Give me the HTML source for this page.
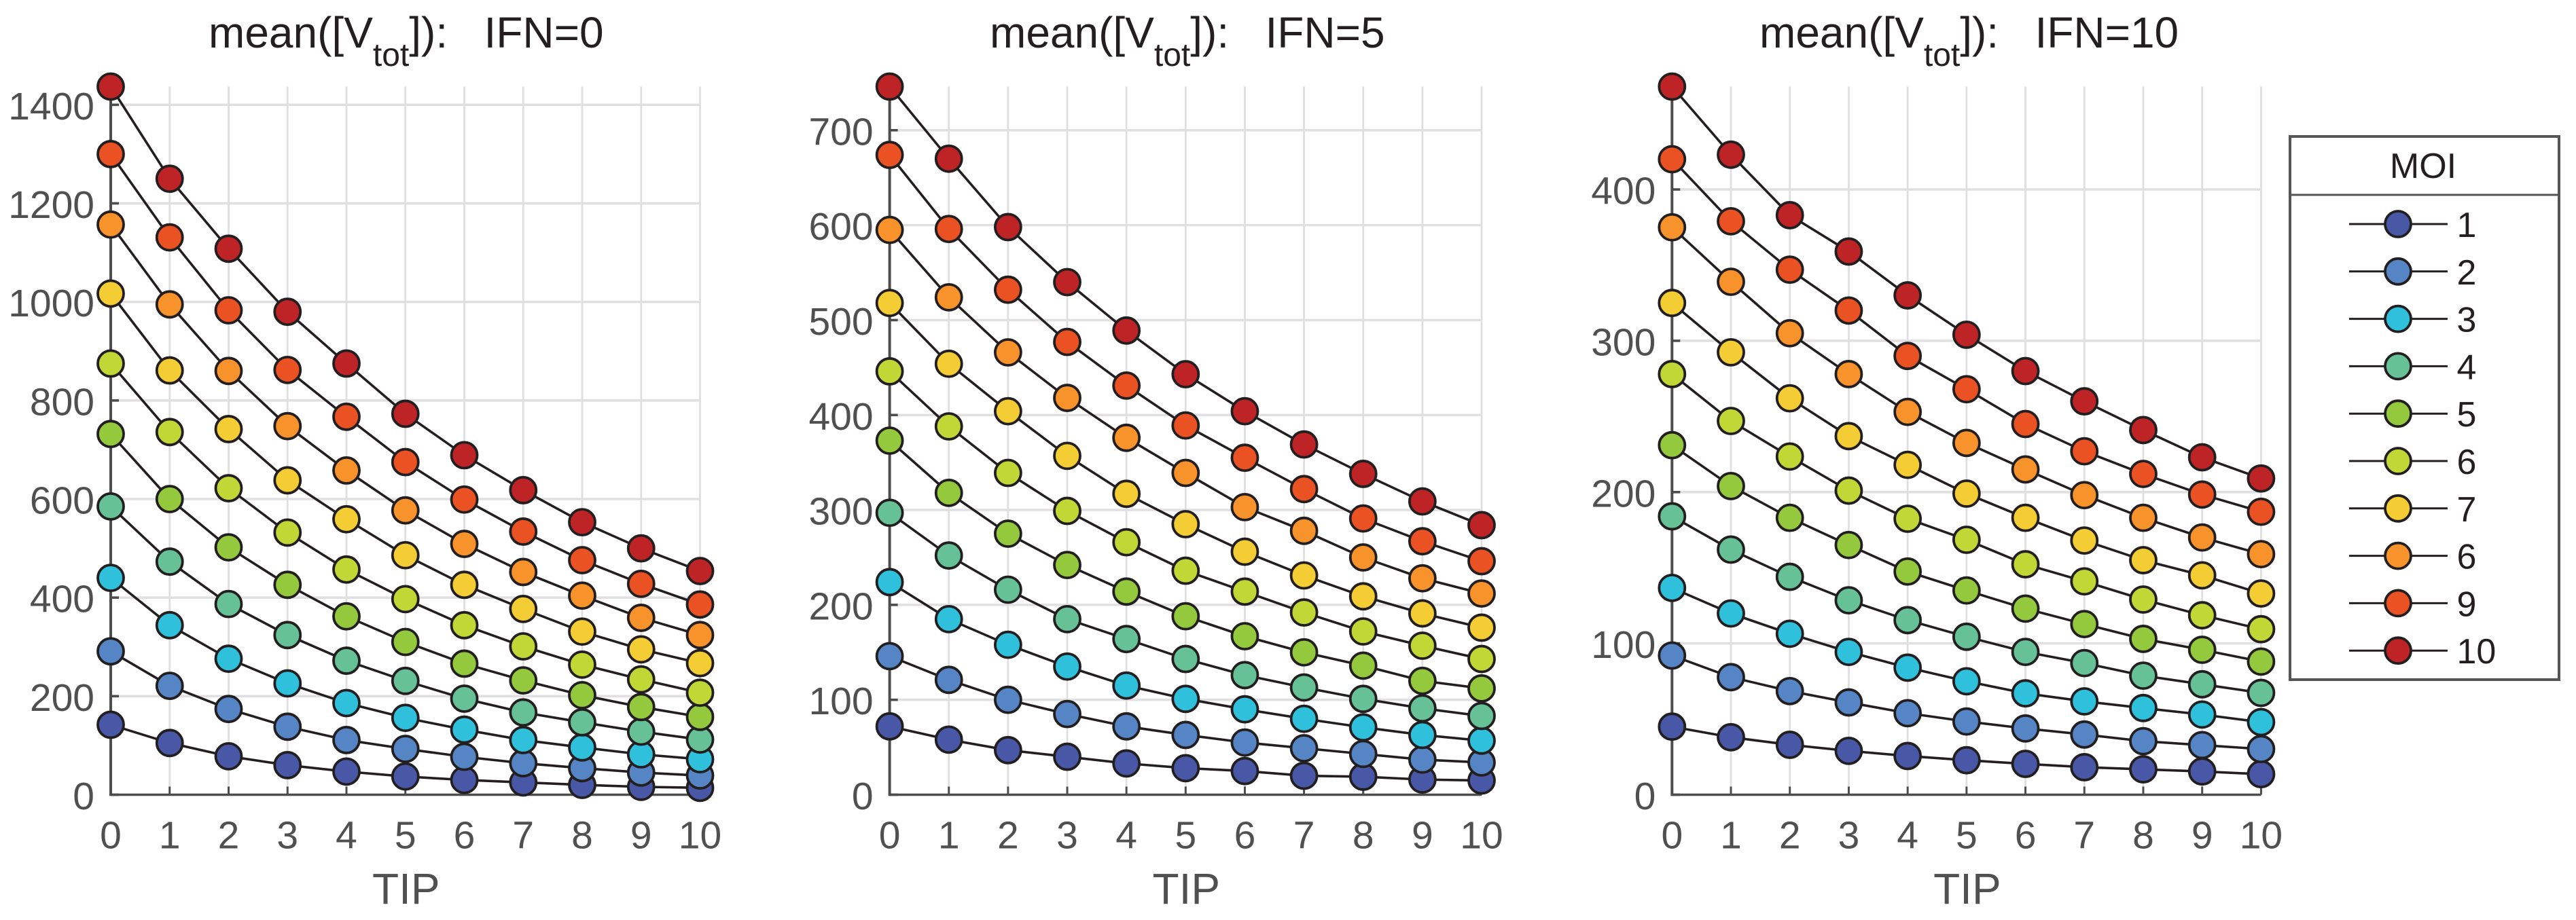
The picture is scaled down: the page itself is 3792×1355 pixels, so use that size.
<!DOCTYPE html>
<html lang="en">
<head>
<meta charset="utf-8">
<title>mean([Vtot]) by TIP, MOI and IFN</title>
<style>
  html, body { margin: 0; padding: 0; background: #ffffff; }
  body { width: 3792px; height: 1355px; overflow: hidden; }
  svg { display: block; font-family: "Liberation Sans", Arial, sans-serif; }
  .title { font-size: 64px; fill: #231f20; white-space: pre; }
  .tick { font-size: 57px; fill: #505050; }
  .axis-title { font-size: 64px; fill: #505050; }
  .legend-text { font-size: 52px; fill: #231f20; }
</style>
</head>
<body>
<svg id="chart" xmlns="http://www.w3.org/2000/svg" width="3792" height="1355" viewBox="0 0 3792 1355">
  <g id="panels"></g>
  <g id="legend">
    <rect x="3371" y="201" width="396" height="800" fill="#ffffff" stroke="#555555" stroke-width="4"></rect>
    <line x1="3371" y1="287" x2="3767" y2="287" stroke="#555555" stroke-width="3"></line>
    <text class="legend-text" x="3567" y="262" text-anchor="middle">MOI</text>
  </g>
</svg>
<script>
const tipCategories = [0, 1, 2, 3, 4, 5, 6, 7, 8, 9, 10];
const moiLabels = ["1", "2", "3", "4", "5", "6", "7", "6", "9", "10"];
const moiColors = ["#4858a6", "#5585c4", "#2fc0dc", "#66c296", "#94c93e", "#c0d836", "#f3cd33", "#f8922b", "#ea5223", "#be2426"];

const ifn0Ticks = [0, 200, 400, 600, 800, 1000, 1200, 1400];
const ifn5Ticks = [0, 100, 200, 300, 400, 500, 600, 700];
const ifn10Ticks = [0, 100, 200, 300, 400];

const ifn0Moi1 = [142, 105, 78, 60, 47, 37, 30, 25, 20, 16, 14];
const ifn0Moi2 = [291, 221, 174, 138, 111, 93, 77, 64, 54, 45, 39];
const ifn0Moi3 = [440, 344, 276, 226, 186, 156, 132, 111, 96, 82, 72];
const ifn0Moi4 = [585, 473, 387, 324, 272, 231, 195, 167, 147, 128, 112];
const ifn0Moi5 = [732, 600, 502, 426, 362, 310, 266, 232, 202, 178, 158];
const ifn0Moi6 = [875, 736, 622, 532, 457, 397, 344, 301, 264, 234, 207];
const ifn0Moi7 = [1017, 861, 742, 638, 559, 486, 426, 377, 331, 295, 267];
const ifn0Moi8 = [1157, 995, 860, 748, 658, 577, 509, 452, 404, 359, 324];
const ifn0Moi9 = [1300, 1131, 983, 862, 767, 675, 599, 534, 476, 428, 386];
const ifn0Moi10 = [1437, 1250, 1108, 980, 875, 773, 689, 618, 553, 500, 454];

const ifn5Moi1 = [72, 58, 47, 40, 33, 28, 25, 20, 19, 16, 15];
const ifn5Moi2 = [146, 121, 100, 85, 72, 63, 55, 49, 43, 37, 34];
const ifn5Moi3 = [224, 185, 158, 135, 115, 101, 90, 80, 71, 63, 57];
const ifn5Moi4 = [297, 252, 216, 185, 164, 143, 126, 113, 101, 91, 83];
const ifn5Moi5 = [373, 318, 275, 242, 214, 188, 167, 150, 136, 120, 112];
const ifn5Moi6 = [446, 388, 339, 299, 266, 236, 214, 192, 172, 157, 143];
const ifn5Moi7 = [518, 454, 404, 357, 317, 285, 256, 231, 209, 191, 176];
const ifn5Moi8 = [595, 524, 466, 418, 376, 339, 303, 278, 250, 228, 212];
const ifn5Moi9 = [674, 596, 532, 477, 431, 389, 355, 322, 291, 267, 246];
const ifn5Moi10 = [746, 670, 598, 540, 489, 443, 404, 369, 338, 309, 284];

const ifn10Moi1 = [45, 38, 33, 29, 25.6, 22.8, 20.4, 18.2, 16.8, 15.4, 13.6];
const ifn10Moi2 = [92, 77.7, 68.5, 61, 53.9, 48.4, 43.8, 39.8, 35.4, 32.8, 30.2];
const ifn10Moi3 = [136.7, 119.8, 106.4, 94.4, 84, 75, 67, 61.7, 57.3, 53, 48];
const ifn10Moi4 = [184, 162, 144, 128.5, 115.4, 104.4, 94.4, 87, 78.7, 73, 67.3];
const ifn10Moi5 = [231, 204, 183, 165, 147.5, 135, 123, 112.8, 103, 95.8, 88];
const ifn10Moi6 = [278, 247, 223.5, 201, 182.4, 168.5, 152.3, 141, 129, 118.6, 109.4];
const ifn10Moi7 = [325, 292.4, 262, 237, 218, 199, 183, 168, 155, 145, 133];
const ifn10Moi8 = [375, 339, 305, 278, 253, 232.5, 215, 198, 183, 170, 159];
const ifn10Moi9 = [420, 379, 347, 320, 290, 268, 245, 227, 212, 198.4, 187];
const ifn10Moi10 = [468, 423, 383, 359, 330, 304, 280, 260, 241, 223, 209];

const ifn0Series = [ifn0Moi1, ifn0Moi2, ifn0Moi3, ifn0Moi4, ifn0Moi5, ifn0Moi6, ifn0Moi7, ifn0Moi8, ifn0Moi9, ifn0Moi10];
const ifn5Series = [ifn5Moi1, ifn5Moi2, ifn5Moi3, ifn5Moi4, ifn5Moi5, ifn5Moi6, ifn5Moi7, ifn5Moi8, ifn5Moi9, ifn5Moi10];
const ifn10Series = [ifn10Moi1, ifn10Moi2, ifn10Moi3, ifn10Moi4, ifn10Moi5, ifn10Moi6, ifn10Moi7, ifn10Moi8, ifn10Moi9, ifn10Moi10];

const SVG_NS = "http://www.w3.org/2000/svg";
const PLOT_TOP = 127.5;
const PLOT_BOTTOM = 1170.5;

const panelConfigs = [
  { ifn: "0", left: 163, right: 1030.5, yMax: 1437, ticks: ifn0Ticks, series: ifn0Series, titleX: 307 },
  { ifn: "5", left: 1309.6, right: 2181, yMax: 746, ticks: ifn5Ticks, series: ifn5Series, titleX: 1457 },
  { ifn: "10", left: 2461.3, right: 3328.4, yMax: 468, ticks: ifn10Ticks, series: ifn10Series, titleX: 2590 }
];

function make(tag, parent, attrs) {
  const el = document.createElementNS(SVG_NS, tag);
  for (const key in attrs) {
    el.setAttribute(key, attrs[key]);
  }
  parent.appendChild(el);
  return el;
}

function xAxisScale(panel, tip) {
  const maxTip = tipCategories[tipCategories.length - 1];
  return panel.left + (tip / maxTip) * (panel.right - panel.left);
}

function yAxisScale(panel, value) {
  return PLOT_BOTTOM - (value / panel.yMax) * (PLOT_BOTTOM - PLOT_TOP);
}

function drawPanel(panel) {
  const root = document.getElementById("panels");
  const group = make("g", root, {});
  
  

  tipCategories.forEach(function (tip) {
    if (tip === 0) { return; }
    const x = xAxisScale(panel, tip);
    const grid = make("line", group, { x1: x, y1: PLOT_TOP, x2: x, y2: PLOT_BOTTOM, stroke: "#dfdfdf", "stroke-width": 2.8 });
    
    
  });

  panel.ticks.forEach(function (tick) {
    if (tick === 0) { return; }
    const y = yAxisScale(panel, tick);
    const grid = make("line", group, { x1: panel.left, y1: y, x2: panel.right, y2: y, stroke: "#e0e0e2", "stroke-width": 3.6 });
    
    
  });

  const yAxis = make("line", group, { x1: panel.left, y1: PLOT_TOP, x2: panel.left, y2: PLOT_BOTTOM + 1.8, stroke: "#4d4d4d", "stroke-width": 4 });
  
  

  const xAxis = make("line", group, { x1: panel.left, y1: PLOT_BOTTOM, x2: panel.right, y2: PLOT_BOTTOM, stroke: "#4d4d4d", "stroke-width": 3.5 });
  
  

  tipCategories.forEach(function (tip) {
    const x = xAxisScale(panel, tip);
    const mark = make("line", group, { x1: x, y1: PLOT_BOTTOM, x2: x, y2: PLOT_BOTTOM - 12, stroke: "#4d4d4d", "stroke-width": 3 });
    
    
    const label = make("text", group, { x: x, y: 1249.5, "text-anchor": "middle", class: "tick" });
    
    
    label.textContent = String(tip);
  });

  panel.ticks.forEach(function (tick) {
    const y = yAxisScale(panel, tick);
    const mark = make("line", group, { x1: panel.left, y1: y, x2: panel.left + 12, y2: y, stroke: "#4d4d4d", "stroke-width": 3.6 });
    
    
    const label = make("text", group, { x: panel.left - 24, y: y + 21.5, "text-anchor": "end", class: "tick" });
    
    
    label.textContent = String(tick);
  });

  const title = make("text", group, { x: panel.titleX, y: 70, class: "title" });
  
  
  title.setAttribute('xml:space', 'preserve');
  const part1 = make("tspan", title, {});
  part1.textContent = "mean([V";
  const part2 = make("tspan", title, { dy: 27, "font-size": 48 });
  part2.textContent = "tot";
  const part3 = make("tspan", title, { dy: -27 });
  part3.textContent = "]):   IFN=" + panel.ifn;

  const axisTitle = make("text", group, { x: (panel.left + panel.right) / 2 + 1, y: 1331, "text-anchor": "middle", class: "axis-title" });
  
  
  axisTitle.textContent = "TIP";

  panel.series.forEach(function (values, s) {
    const seriesGroup = make("g", group, {});
    
    
    const points = values.map(function (v, i) {
      return xAxisScale(panel, tipCategories[i]) + "," + yAxisScale(panel, v);
    }).join(" ");
    const path = make("polyline", seriesGroup, { points: points, fill: "none", stroke: "#231f20", "stroke-width": 3.6 });
    
    
    values.forEach(function (v, i) {
      const dot = make("circle", seriesGroup, { cx: xAxisScale(panel, tipCategories[i]), cy: yAxisScale(panel, v), r: 19, fill: moiColors[s], stroke: "#231f20", "stroke-width": 3.8 });
      
      
    });
  });
}

function drawLegend() {
  const root = document.getElementById("legend");
  moiLabels.forEach(function (labelText, i) {
    const y = 330 + i * 69.8;
    const row = make("g", root, {});
    
    
    const line = make("line", row, { x1: 3458, y1: y, x2: 3603, y2: y, stroke: "#231f20", "stroke-width": 3 });
    
    
    const dot = make("circle", row, { cx: 3530, cy: y, r: 19, fill: moiColors[i], stroke: "#231f20", "stroke-width": 3.8 });
    
    
    const label = make("text", row, { x: 3616.5, y: y + 19, class: "legend-text" });
    
    
    label.textContent = labelText;
  });
}

panelConfigs.forEach(drawPanel);
drawLegend();
</script>
</body>
</html>
